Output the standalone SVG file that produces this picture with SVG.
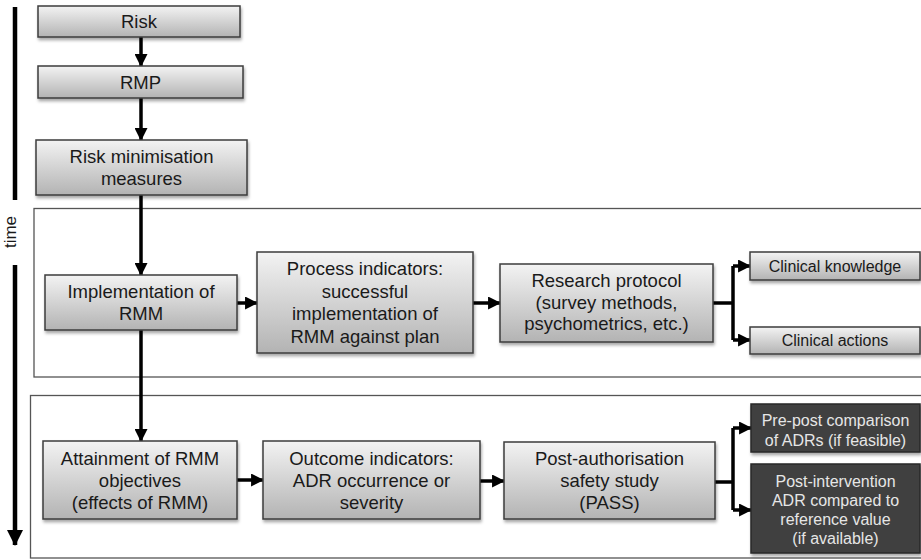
<svg xmlns="http://www.w3.org/2000/svg" width="921" height="560" viewBox="0 0 921 560">
<defs>
<linearGradient id="g" x1="0" y1="0" x2="0" y2="1">
<stop offset="0" stop-color="#f3f3f3"/>
<stop offset="1" stop-color="#b3b3b3"/>
</linearGradient>
<filter id="sh" x="-10%" y="-10%" width="120%" height="140%">
<feDropShadow dx="1" dy="2.5" stdDeviation="1.5" flood-color="#000" flood-opacity="0.35"/>
</filter>
<marker id="ah" markerUnits="userSpaceOnUse" markerWidth="13" markerHeight="13" viewBox="0 0 12 12" refX="11" refY="6" orient="auto">
<path d="M0,0 L12,6 L0,12 Z" fill="#000"/>
</marker>
<marker id="th" markerUnits="userSpaceOnUse" markerWidth="16" markerHeight="16" viewBox="0 0 16 16" refX="15" refY="8" orient="auto">
<path d="M0,0 L16,8 L0,16 Z" fill="#000"/>
</marker>
</defs>
<style>
.b{fill:url(#g);stroke:#3c3c3c;stroke-width:1.5;filter:url(#sh)}
.d{fill:#3f3f3f;stroke:#2a2a2a;stroke-width:1.5;filter:url(#sh)}
.p{fill:none;stroke:#555;stroke-width:1.3}
text{font-family:"Liberation Sans",Arial,sans-serif;text-anchor:middle}
.t{font-size:18.5px;fill:#1a1a1a}
.s{font-size:16px;fill:#1a1a1a}
.w{font-size:16px;fill:#e6e6e6}
.c{fill:none;stroke:#000;stroke-width:3.5}
</style>
<rect width="921" height="560" fill="#fff"/>
<g id="panels">
<rect class="p" x="34" y="208.5" width="900" height="168.5"/>
<rect class="p" x="30.5" y="395.5" width="900" height="162.5"/>
</g>
<g id="timeaxis">
<line x1="15" y1="7" x2="15" y2="200" stroke="#000" stroke-width="4.5"/>
<line x1="15" y1="265" x2="15" y2="545" stroke="#000" stroke-width="4.5" marker-end="url(#th)"/>
<text x="16" y="232" font-size="17" fill="#1a1a1a" transform="rotate(-90 16 232)">time</text>
</g>
<g id="connectors">
<line class="c" x1="141" y1="37" x2="141" y2="66" marker-end="url(#ah)"/>
<line class="c" x1="141" y1="98" x2="141" y2="140" marker-end="url(#ah)"/>
<line class="c" x1="141" y1="195" x2="141" y2="275" marker-end="url(#ah)"/>
<line class="c" x1="141" y1="330" x2="141" y2="441" marker-end="url(#ah)"/>
<line class="c" x1="237" y1="303" x2="257" y2="303" marker-end="url(#ah)"/>
<line class="c" x1="473" y1="303" x2="500" y2="303" marker-end="url(#ah)"/>
<path class="c" d="M713,303 H733"/>
<path class="c" d="M733,266 V340"/>
<line class="c" x1="733" y1="266" x2="750" y2="266" marker-end="url(#ah)"/>
<line class="c" x1="733" y1="340" x2="750" y2="340" marker-end="url(#ah)"/>
<line class="c" x1="237" y1="480" x2="263" y2="480" marker-end="url(#ah)"/>
<line class="c" x1="480" y1="481" x2="504" y2="481" marker-end="url(#ah)"/>
<path class="c" d="M715,482 H733"/>
<path class="c" d="M733,428 V510"/>
<line class="c" x1="733" y1="428" x2="751" y2="428" marker-end="url(#ah)"/>
<line class="c" x1="733" y1="510" x2="751" y2="510" marker-end="url(#ah)"/>
</g>
<g id="risk"><rect class="b" x="38" y="6" width="202" height="31"/><text class="t" x="139" y="28">Risk</text></g>
<g id="rmp"><rect class="b" x="38" y="66" width="205" height="32"/><text class="t" x="140.5" y="88.5">RMP</text></g>
<g id="rmm"><rect class="b" x="36" y="140" width="211" height="55"/><text class="t" x="141.5" y="163">Risk minimisation</text><text class="t" x="141.5" y="185">measures</text></g>
<g id="impl"><rect class="b" x="45" y="275" width="192" height="55"/><text class="t" x="141" y="298">Implementation of</text><text class="t" x="141" y="320">RMM</text></g>
<g id="process"><rect class="b" x="257" y="252" width="216" height="101"/><text class="t" x="365" y="275">Process indicators:</text><text class="t" x="365" y="297.5">successful</text><text class="t" x="365" y="320">implementation of</text><text class="t" x="365" y="342.5">RMM against plan</text></g>
<g id="research"><rect class="b" x="500" y="264" width="213" height="78"/><text class="t" x="606.5" y="287">Research protocol</text><text class="t" x="606.5" y="308.5">(survey methods,</text><text class="t" x="606.5" y="330">psychometrics, etc.)</text></g>
<g id="knowledge"><rect class="b" x="750" y="252" width="170" height="28"/><text class="s" x="835" y="272">Clinical knowledge</text></g>
<g id="actions"><rect class="b" x="750" y="327" width="170" height="27"/><text class="s" x="835" y="346">Clinical actions</text></g>
<g id="attain"><rect class="b" x="43" y="441" width="194" height="78"/><text class="t" x="140" y="465">Attainment of RMM</text><text class="t" x="140" y="487">objectives</text><text class="t" x="140" y="508.5">(effects of RMM)</text></g>
<g id="outcome"><rect class="b" x="263" y="441" width="217" height="78"/><text class="t" x="371.5" y="465">Outcome indicators:</text><text class="t" x="371.5" y="487">ADR occurrence or</text><text class="t" x="371.5" y="508.5">severity</text></g>
<g id="pass"><rect class="b" x="504" y="442" width="211" height="77"/><text class="t" x="609.5" y="465">Post-authorisation</text><text class="t" x="609.5" y="487">safety study</text><text class="t" x="609.5" y="508.5">(PASS)</text></g>
<g id="prepost"><rect class="d" x="751" y="404" width="169" height="48"/><text class="w" x="835.5" y="426">Pre-post comparison</text><text class="w" x="835.5" y="446">of ADRs (if feasible)</text></g>
<g id="postint"><rect class="d" x="751" y="464" width="169" height="89"/><text class="w" x="835.5" y="487">Post-intervention</text><text class="w" x="835.5" y="506">ADR compared to</text><text class="w" x="835.5" y="525">reference value</text><text class="w" x="835.5" y="544">(if available)</text></g>
</svg>
